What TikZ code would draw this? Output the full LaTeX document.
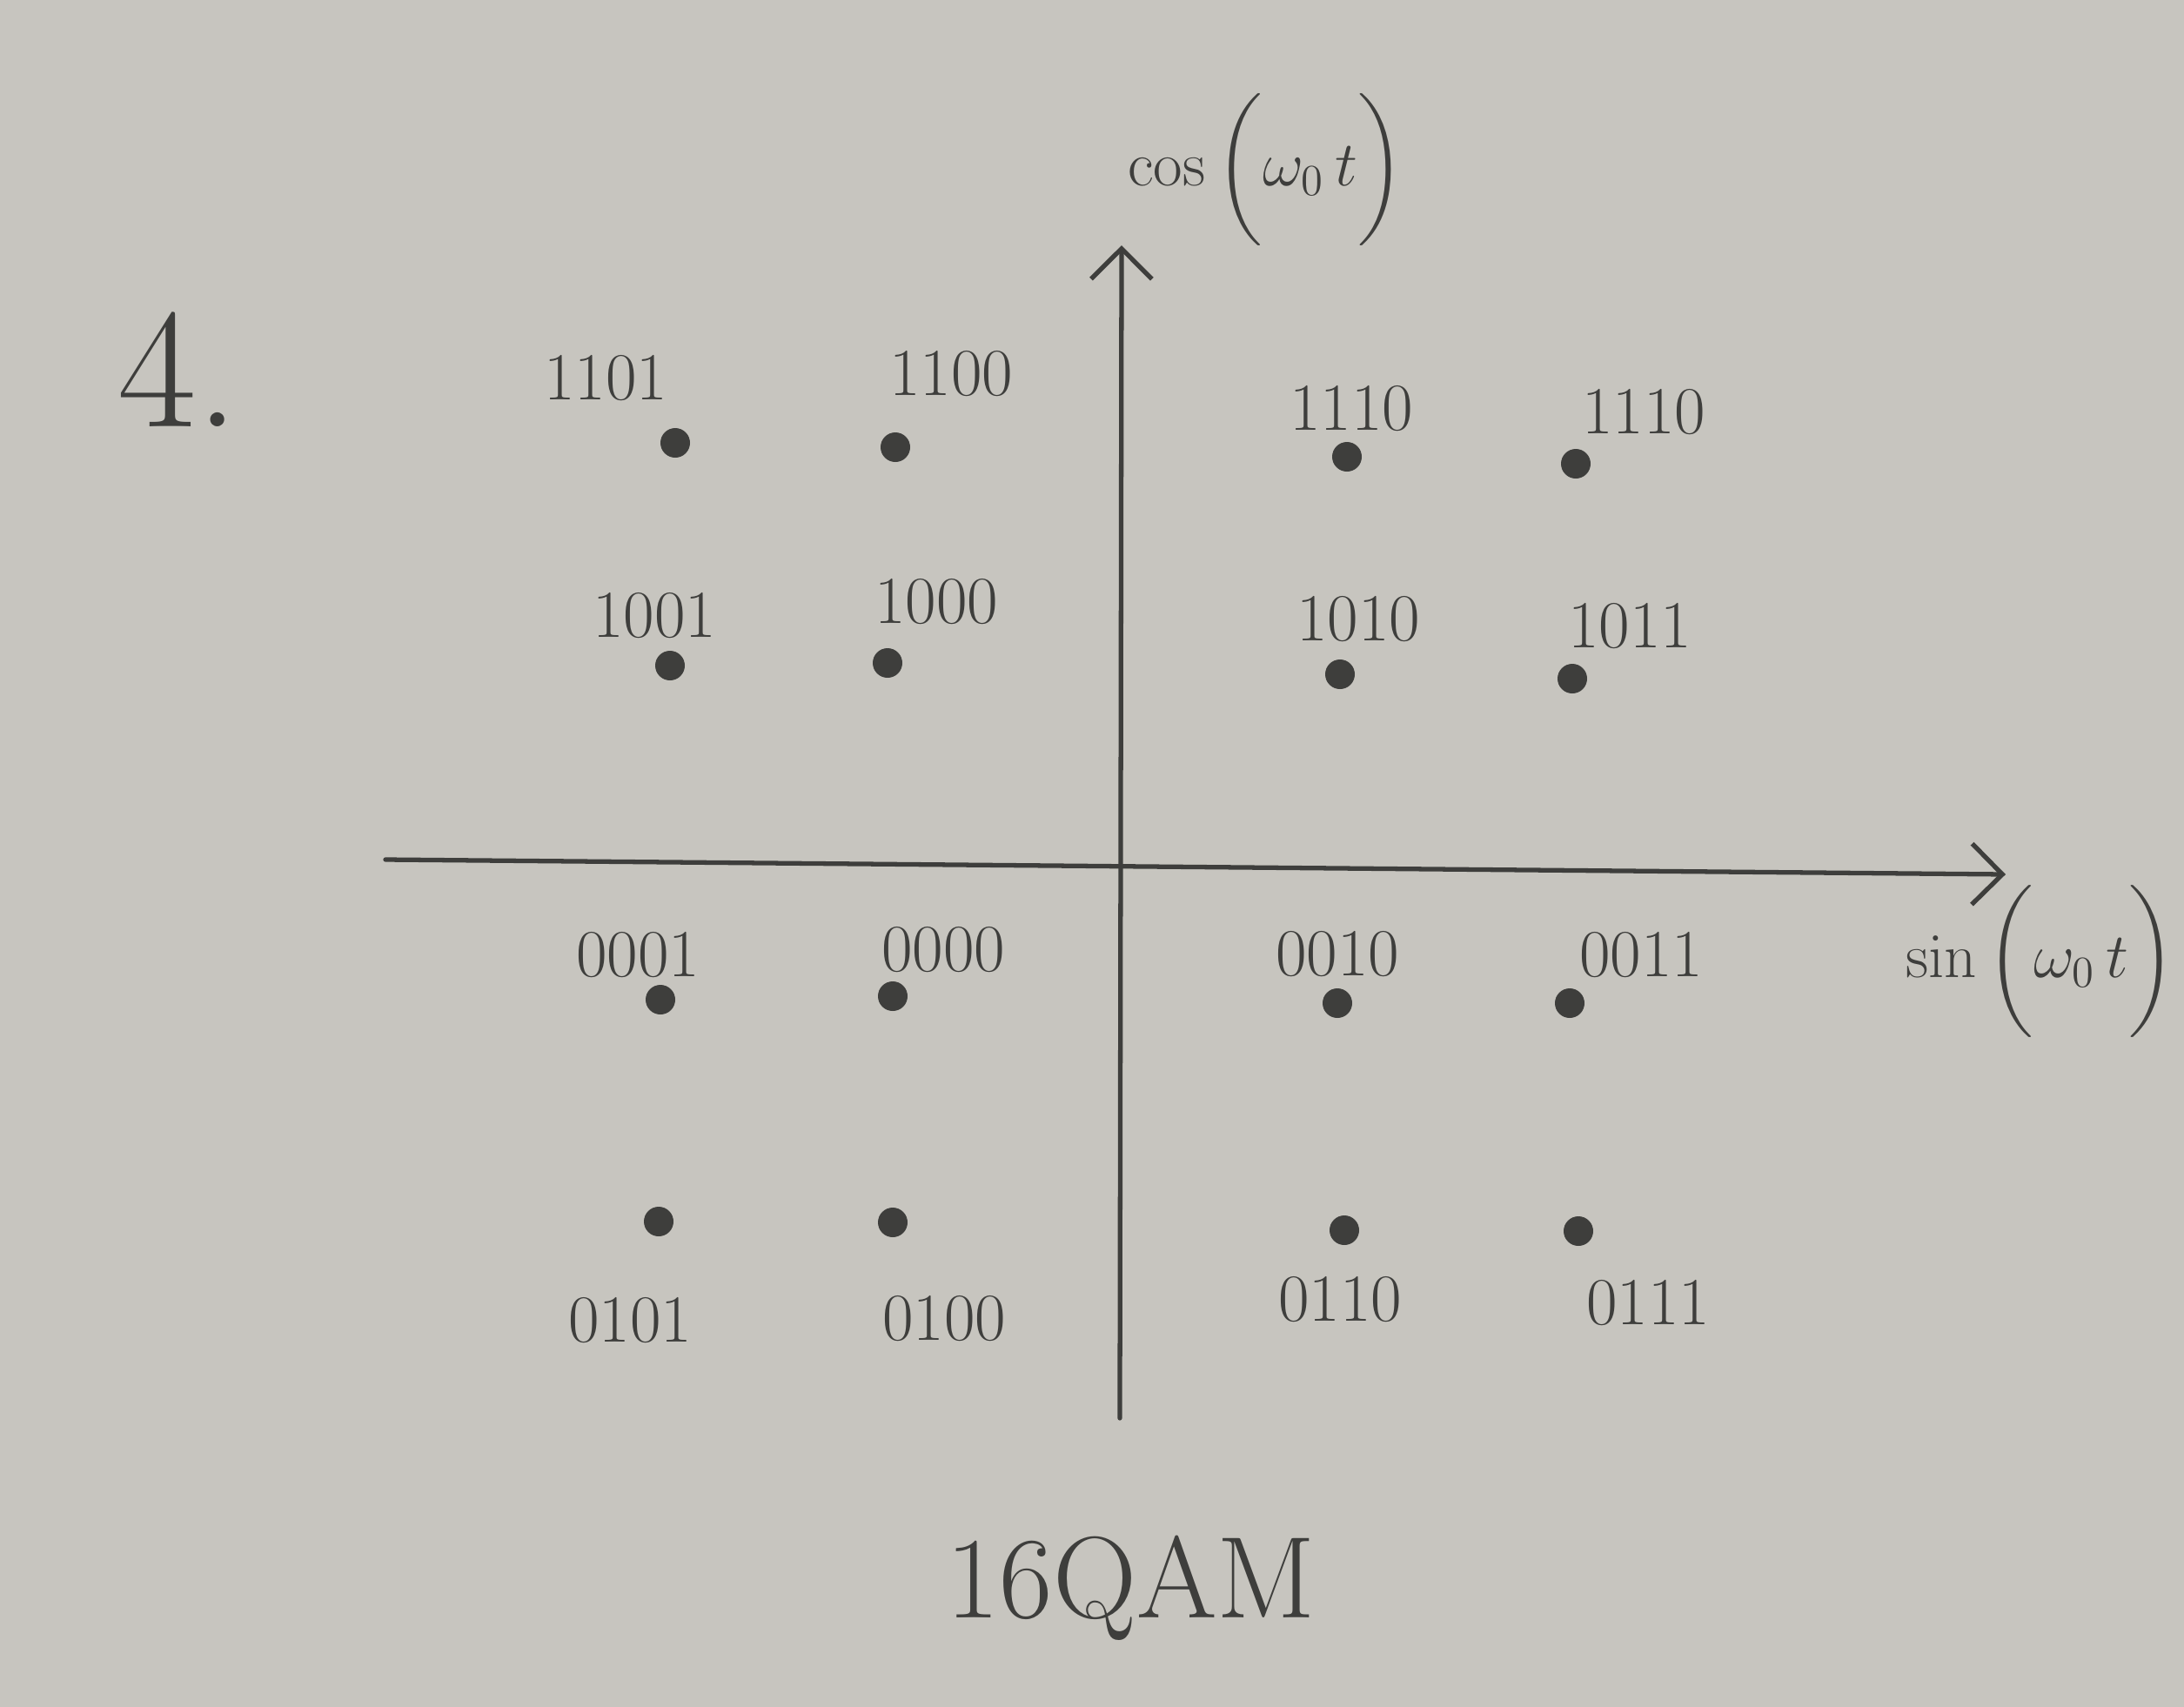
\documentclass[tikz,border=0pt]{standalone}
\usepackage{amsmath}
\usepackage{tikz}
\usetikzlibrary{arrows.meta,positioning}
\definecolor{paper}{RGB}{199,197,191}
\definecolor{pencil}{RGB}{62,62,60}
\tikzset{
point/.style = {circle, fill=pencil, inner sep=0pt, minimum width=0.30cm, minimum height=0.34cm},
bits/.style = {text=pencil, font=\fontsize{22}{24}\selectfont, inner sep=0pt},
axis/.style = {draw=pencil, line width=1.5pt, ->},
axislabel/.style = {text=pencil, font=\fontsize{20}{24}\selectfont}
}

\begin{document}
\begin{tikzpicture}[>={Straight Barb[length=3.5mm,width=7mm]}, line cap=round]
		\fill [paper] (0,0) rectangle (25.1,-19.62);
		\useasboundingbox (0,0) rectangle (25.1,-19.62);

		% axes
		\coordinate (west) at (4.43,-9.88);
		\coordinate (east) at (23.05,-10.05);
		\coordinate (south) at (12.87,-16.30);
		\coordinate (north) at (12.89,-2.82);
		\draw [axis] (west) -- (east);
		\draw [axis] (south) -- (north);

		\node [axislabel] (cosl) at (14.55,-1.95) {$\cos\bigg(\omega_{0}\,t\bigg)$};
		\node [axislabel] (sinl) at (23.45,-11.05) {$\sin\bigg(\omega_{0}\,t\bigg)$};

		% constellation points
		\node [point] (p1101) at (7.76,-5.09) {};
		\node [point] (p1100) at (10.29,-5.14) {};
		\node [point] (p1110) at (15.48,-5.25) {};
		\node [point] (p1111) at (18.11,-5.33) {};
		\node [point] (p1001) at (7.70,-7.65) {};
		\node [point] (p1000) at (10.20,-7.62) {};
		\node [point] (p1010) at (15.40,-7.75) {};
		\node [point] (p1011) at (18.07,-7.80) {};
		\node [point] (p0001) at (7.59,-11.49) {};
		\node [point] (p0000) at (10.26,-11.45) {};
		\node [point] (p0010) at (15.37,-11.53) {};
		\node [point] (p0011) at (18.04,-11.53) {};
		\node [point] (p0101) at (7.57,-14.04) {};
		\node [point] (p0100) at (10.26,-14.05) {};
		\node [point] (p0110) at (15.45,-14.14) {};
		\node [point] (p0111) at (18.14,-14.15) {};

		% bit labels
		\node [bits] (l1101) at (6.96,-4.35) {1101};
		\node [bits] (l1100) at (10.93,-4.30) {1100};
		\node [bits] (l1110) at (15.53,-4.70) {1110};
		\node [bits] (l1111) at (18.89,-4.74) {1110};
		\node [bits] (l1001) at (7.52,-7.08) {1001};
		\node [bits] (l1000) at (10.76,-6.92) {1000};
		\node [bits] (l1010) at (15.61,-7.12) {1010};
		\node [bits] (l1011) at (18.73,-7.20) {1011};
		\node [bits] (l0001) at (7.33,-10.98) {0001};
		\node [bits] (l0000) at (10.84,-10.92) {0000};
		\node [bits] (l0010) at (15.37,-10.97) {0010};
		\node [bits] (l0011) at (18.86,-10.98) {0011};
		\node [bits] (l0101) at (7.24,-15.18) {0101};
		\node [bits] (l0100) at (10.85,-15.16) {0100};
		\node [bits] (l0110) at (15.40,-14.94) {0110};
		\node [bits] (l0111) at (18.94,-14.98) {0111};

		\node [text=pencil, font=\fontsize{56}{56}\selectfont] (num) at (2.05,-4.25) {4.};
		\node [text=pencil, font=\fontsize{38}{40}\selectfont] (title) at (13.00,-18.25) {16QAM};
    \end{tikzpicture}
\end{document}
